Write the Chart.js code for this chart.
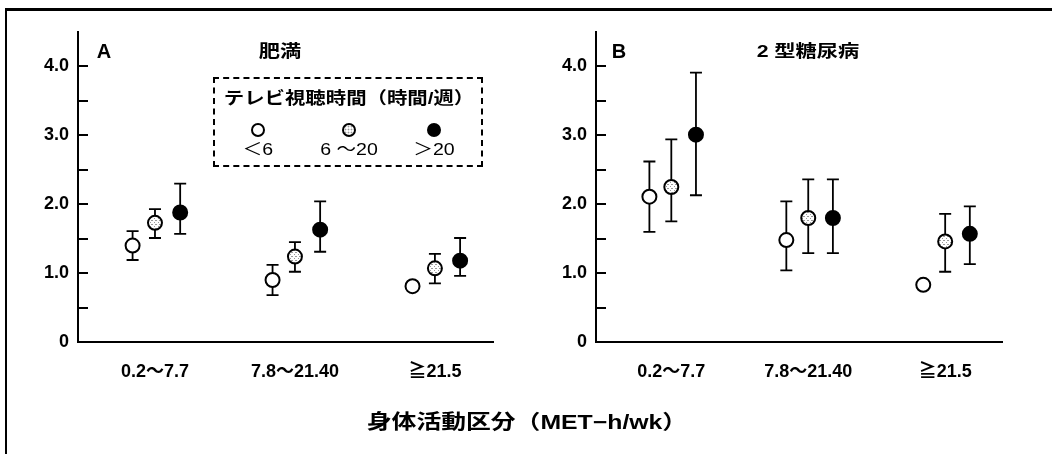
<!DOCTYPE html>
<html>
<head>
  <meta charset="utf-8">
  <title>身体活動区分とテレビ視聴時間</title>
  <script src="https://cdn.jsdelivr.net/npm/chart.js"></script>
  <style>
    body { margin: 0; background: #fff; font-family: "Liberation Sans", "Noto Sans CJK JP", sans-serif; color: #000; }
    #wrap { position: relative; width: 1052px; height: 454px; overflow: hidden; background: #fff; }
    .panel { position: absolute; top: 0; height: 454px; }
    .txt { position: absolute; white-space: nowrap; transform: translate(-50%, -50%) scaleX(1.25); line-height: 1; }
    .b { font-weight: bold; }
    #frameTop { position: absolute; left: 5px; top: 8px; width: 1047px; height: 0; border-top: 3px solid #000; }
    #frameLeft { position: absolute; left: 5px; top: 8px; width: 0; height: 446px; border-left: 2px solid #000; }
    #legendBox { position: absolute; left: 213px; top: 77px; width: 266px; height: 86px; border: 2px dashed #000; }
    .dot { position: absolute; width: 10px; height: 10px; border: 2px solid #000; border-radius: 50%; transform: translate(-50%, -50%); }
  </style>
</head>
<body>
<div id="wrap">
  <div class="panel" style="left:0;width:520px"><canvas id="chartA"></canvas></div>
  <div class="panel" style="left:520px;width:532px"><canvas id="chartB"></canvas></div>
  <div id="frameTop"></div>
  <div id="frameLeft"></div>

  <div class="txt b" style="left:104px;top:51px;font-size:20px;transform:translate(-50%,-50%)">A</div>
  <div class="txt b" style="left:280px;top:51px;font-size:17px">肥満</div>
  <div class="txt b" style="left:619px;top:51px;font-size:20px;transform:translate(-50%,-50%)">B</div>
  <div class="txt b" style="left:808px;top:51px;font-size:17px">2 型糖尿病</div>

  <div id="legendBox"></div>
  <div class="txt b" style="left:349px;top:98px;font-size:17px;transform:translate(-50%,-50%) scaleX(1.2)">テレビ視聴時間（時間/週）</div>
  <div id="legendItems"></div>

  <div class="txt b" style="left:527px;top:422px;font-size:20px;transform:translate(-50%,-50%) scaleX(1.24)">身体活動区分（MET−h/wk）</div>
</div>

<script>
// x categories (physical activity, MET-h/wk) and TV viewing groups (h/week)
const categories = ['0.2～7.7', '7.8～21.40', '≧21.5'];
const tvGroups = ['＜6', '6 ～20', '＞20'];

// A: 肥満
const obLt6 = [1.40, 0.90, 0.81];
const obLt6Lo = [1.19, 0.68, null];
const obLt6Hi = [1.61, 1.12, null];
const obMid = [1.73, 1.24, 1.07];
const obMidLo = [1.51, 1.02, 0.85];
const obMidHi = [1.93, 1.45, 1.28];
const obGt20 = [1.88, 1.63, 1.18];
const obGt20Lo = [1.57, 1.31, 0.96];
const obGt20Hi = [2.30, 2.04, 1.51];

// B: 2型糖尿病
const dmLt6 = [2.11, 1.48, 0.83];
const dmLt6Lo = [1.60, 1.04, null];
const dmLt6Hi = [2.62, 2.04, null];
const dmMid = [2.25, 1.80, 1.46];
const dmMidLo = [1.75, 1.29, 1.02];
const dmMidHi = [2.94, 2.36, 1.86];
const dmGt20 = [3.01, 1.80, 1.57];
const dmGt20Lo = [2.13, 1.29, 1.13];
const dmGt20Hi = [3.91, 2.36, 1.97];

const FONT = '"Liberation Sans", "Noto Sans CJK JP", sans-serif';
const dodge = [-0.16, 0, 0.18];

// speckled fill for the 6~20 group
function stipple() {
  const c = document.createElement('canvas');
  c.width = 4; c.height = 4;
  const g = c.getContext('2d');
  g.fillStyle = '#fff'; g.fillRect(0, 0, 4, 4);
  g.fillStyle = '#9a9a9a';
  g.fillRect(0, 0, 1, 1); g.fillRect(2, 2, 1, 1); g.fillRect(3, 0, 1, 1);
  return g.createPattern(c, 'repeat');
}
const fills = ['#fff', stipple(), '#000'];

const errorBars = {
  id: 'errorBars',
  beforeDatasetsDraw(chart) {
    const ctx = chart.ctx, y = chart.scales.y;
    ctx.save();
    ctx.strokeStyle = '#000';
    ctx.lineWidth = 1.8;
    chart.data.datasets.forEach((ds, k) => {
      chart.getDatasetMeta(k).data.forEach((pt, i) => {
        if (ds.errLo[i] == null) return;
        const top = y.getPixelForValue(ds.errHi[i]);
        const bot = y.getPixelForValue(ds.errLo[i]);
        ctx.beginPath();
        ctx.moveTo(pt.x, top); ctx.lineTo(pt.x, bot);
        ctx.moveTo(pt.x - 6, top); ctx.lineTo(pt.x + 6, top);
        ctx.moveTo(pt.x - 6, bot); ctx.lineTo(pt.x + 6, bot);
        ctx.stroke();
      });
    });
    ctx.restore();
  }
};

function makeChart(id, series, yWidth, padRight) {
  return new Chart(document.getElementById(id), {
    type: 'scatter',
    data: {
      datasets: series.map((s, k) => ({
        label: tvGroups[k],
        data: s[0].map((v, i) => ({ x: i + 1 + dodge[k], y: v })),
        errLo: s[1],
        errHi: s[2],
        pointRadius: 7,
        pointHoverRadius: 7,
        pointBorderWidth: 2,
        pointBorderColor: '#000',
        pointBackgroundColor: fills[k]
      }))
    },
    options: {
      responsive: true,
      maintainAspectRatio: false,
      animation: false,
      layout: { padding: { top: 32, right: padRight, bottom: 52, left: 0 } },
      plugins: { legend: { display: false }, tooltip: { enabled: false } },
      scales: {
        x: {
          type: 'linear',
          min: 0.45,
          max: 3.415,
          afterBuildTicks: (scale) => { scale.ticks = categories.map((c, i) => ({ value: i + 1 })); },
          afterFit: (scale) => { scale.height = 60; },
          grid: { display: false, drawTicks: false },
          border: { display: true, color: '#000', width: 2 },
          ticks: {
            autoSkip: false,
            maxRotation: 0,
            padding: 19,
            color: '#000',
            font: { family: FONT, size: 18, weight: 'bold' },
            callback: (v) => categories[v - 1]
          }
        },
        y: {
          min: 0,
          max: 4.5,
          afterBuildTicks: (scale) => { scale.ticks = scale.ticks.filter(t => t.value <= 4); },
          afterFit: (scale) => { scale.width = yWidth; },
          grid: { drawOnChartArea: false, drawTicks: true, tickLength: -10, color: '#000', lineWidth: 2 },
          border: { display: true, color: '#000', width: 2 },
          ticks: {
            stepSize: 0.5,
            padding: 19,
            color: '#000',
            font: { family: FONT, size: 18, weight: 'bold' },
            callback: (v) => v === 0 ? '0' : (v % 1 === 0 ? v.toFixed(1) : '')
          }
        }
      }
    },
    plugins: [errorBars]
  });
}

makeChart('chartA', [
  [obLt6, obLt6Lo, obLt6Hi],
  [obMid, obMidLo, obMidHi],
  [obGt20, obGt20Lo, obGt20Hi]
], 78, 27);

makeChart('chartB', [
  [dmLt6, dmLt6Lo, dmLt6Hi],
  [dmMid, dmMidLo, dmMidHi],
  [dmGt20, dmGt20Lo, dmGt20Hi]
], 76, 50);

// legend: marker above each TV group label
const legendX = [258, 349, 434];
const holder = document.getElementById('legendItems');
tvGroups.forEach((g, k) => {
  const dot = document.createElement('div');
  dot.className = 'dot';
  dot.style.left = legendX[k] + 'px';
  dot.style.top = '130px';
  if (k === 1) dot.style.background = '#fff radial-gradient(#999 0.6px, transparent 1.2px) 0 0 / 3px 3px';
  if (k === 2) dot.style.background = '#000';
  holder.appendChild(dot);
  const t = document.createElement('div');
  t.className = 'txt';
  t.style.left = legendX[k] + 'px';
  t.style.top = '149px';
  t.style.fontSize = '17px';
  t.style.transform = 'translate(-50%,-50%) scaleX(1.15)';
  t.textContent = g;
  holder.appendChild(t);
});
</script>
</body>
</html>
